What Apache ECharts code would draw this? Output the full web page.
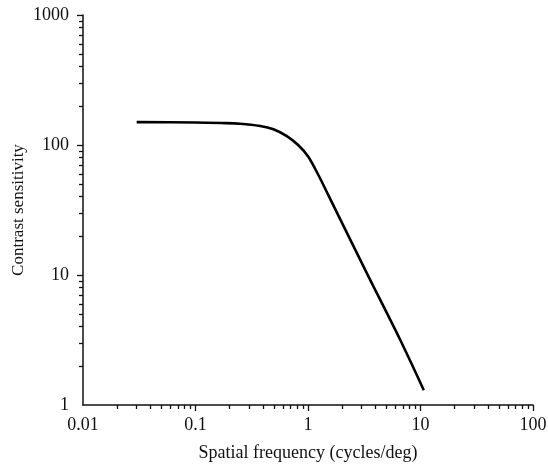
<!DOCTYPE html>
<html>
<head>
<meta charset="utf-8">
<title>Contrast sensitivity</title>
<script src="https://cdn.jsdelivr.net/npm/echarts@6/dist/echarts.min.js"></script>
<style>
  html, body { margin: 0; padding: 0; background: #fff; }
  #chart { width: 548px; height: 464px; }
</style>
</head>
<body>
<div id="chart"></div>
<script>
// Contrast sensitivity function, sampled along the curve
const spatialFreq = [0.03, 0.1, 0.17, 0.249, 0.376, 0.493, 0.648, 0.822, 1.01, 1.24, 1.52, 3.34, 6.61, 10.7];
const sensitivity = [150, 149, 147.5, 145.8, 140, 132, 117, 99.5, 80.9, 58.5, 41, 10.3, 3.16, 1.3];

// Decade tick labels and the multipliers used for minor ticks
const xDecades = [0.01, 0.1, 1, 10, 100];
const yDecades = [1, 10, 100, 1000];
const minorSteps = [2, 3, 4, 5, 6, 7, 8, 9];

function minorTicks(decades) {
  const out = [];
  for (let i = 0; i < decades.length - 1; i++) {
    minorSteps.forEach(m => out.push(+(decades[i] * m).toPrecision(6)));
  }
  return out;
}

const FONT = '"Liberation Serif", "Times New Roman", serif';
const INK = '#111';

const baseAxis = {
  type: 'log',
  logBase: 10,
  axisLine: { show: true, lineStyle: { color: INK, width: 1.5 } },
  splitLine: { show: false },
  minorTick: { show: false }
};

const data = spatialFreq.map((f, i) => [f, sensitivity[i]]);

const option = {
  backgroundColor: '#fff',
  animation: false,
  grid: { left: 83, right: 15, top: 15, bottom: 59, containLabel: false, outerBoundsMode: 'none' },
  xAxis: [
    Object.assign({}, baseAxis, {
      min: xDecades[0], max: xDecades[xDecades.length - 1],
      position: 'bottom',
      name: 'Spatial frequency (cycles/deg)',
      nameLocation: 'middle',
      nameGap: 39,
      nameTextStyle: { fontFamily: FONT, fontSize: 18, color: INK },
      axisTick: { show: true, inside: false, length: 6, lineStyle: { color: INK, width: 1.3 },
                  customValues: xDecades.slice(1) },
      axisLabel: { fontFamily: FONT, fontSize: 18, color: INK, margin: 11,
                   customValues: xDecades, formatter: v => String(v) }
    }),
    Object.assign({}, baseAxis, {
      min: xDecades[0], max: xDecades[xDecades.length - 1],
      position: 'bottom',
      axisLine: { show: false },
      axisTick: { show: true, inside: false, length: 4, lineStyle: { color: INK, width: 1.3 },
                  customValues: minorTicks(xDecades) },
      axisLabel: { show: false }
    })
  ],
  yAxis: [
    Object.assign({}, baseAxis, {
      min: yDecades[0], max: yDecades[yDecades.length - 1],
      position: 'left',
      name: 'Contrast sensitivity',
      nameLocation: 'middle',
      nameGap: 56,
      nameMoveOverlap: false,
      nameRotate: 90,
      nameTextStyle: { fontFamily: FONT, fontSize: 17, color: INK },
      axisTick: { show: true, inside: false, length: 6, lineStyle: { color: INK, width: 1.3 },
                  customValues: yDecades.slice(1) },
      axisLabel: { fontFamily: FONT, fontSize: 18, color: INK, margin: 14,
                   customValues: yDecades, formatter: v => String(v) }
    }),
    Object.assign({}, baseAxis, {
      min: yDecades[0], max: yDecades[yDecades.length - 1],
      position: 'left',
      axisLine: { show: false },
      axisTick: { show: true, inside: false, length: 4, lineStyle: { color: INK, width: 1.3 },
                  customValues: minorTicks(yDecades) },
      axisLabel: { show: false }
    })
  ],
  series: [{
    type: 'line',
    xAxisIndex: 0,
    yAxisIndex: 0,
    data: data,
    smooth: 0.3,
    showSymbol: false,
    lineStyle: { color: '#000', width: 2.6 }
  }]
};

echarts.init(document.getElementById('chart'), null, { renderer: 'canvas' }).setOption(option);
</script>
</body>
</html>
